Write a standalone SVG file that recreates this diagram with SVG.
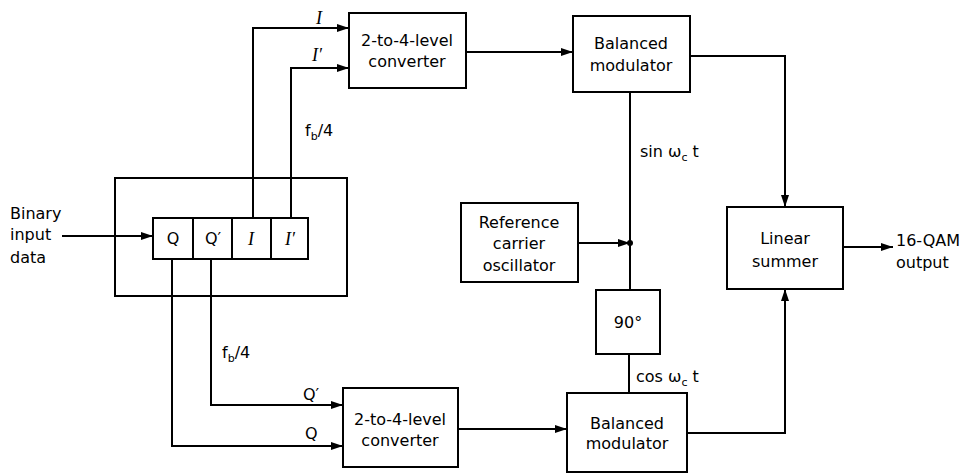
<svg xmlns="http://www.w3.org/2000/svg" width="978" height="475" viewBox="0 0 978 475">
<defs>
<marker id="arr" viewBox="0 0 12 8" refX="12" refY="4" markerWidth="12" markerHeight="8" markerUnits="userSpaceOnUse" orient="auto">
<path d="M0,0 L12,4 L0,8 Z" fill="#000"/>
</marker>
<style>
.box{fill:none;stroke:#000;stroke-width:2}
.ln{fill:none;stroke:#000;stroke-width:2}
.t{font-family:"DejaVu Sans",sans-serif;font-size:16px;fill:#000}
.c{text-anchor:middle}
.s{font-family:"Liberation Serif",serif;font-style:italic;font-size:18px;fill:#000}
</style>
</defs>
<rect width="978" height="475" fill="#fff"/>

<g id="connectors">
<path class="ln" d="M62,236 L153,236" marker-end="url(#arr)"/>
<path class="ln" d="M253,218 L253,28 L349,28" marker-end="url(#arr)"/>
<path class="ln" d="M291,218 L291,68 L349,68" marker-end="url(#arr)"/>
<path class="ln" d="M172,259 L172,446 L343,446" marker-end="url(#arr)"/>
<path class="ln" d="M211,259 L211,405 L343,405" marker-end="url(#arr)"/>
<path class="ln" d="M466,52 L573,52" marker-end="url(#arr)"/>
<path class="ln" d="M458,429 L567,429" marker-end="url(#arr)"/>
<path class="ln" d="M690,56 L785,56 L785,207" marker-end="url(#arr)"/>
<path class="ln" d="M687,433 L785,433 L785,289" marker-end="url(#arr)"/>
<path class="ln" d="M578,243 L630,243" marker-end="url(#arr)"/>
<path class="ln" d="M630,92 L630,290"/>
<path class="ln" d="M629,354 L629,393"/>
<path class="ln" d="M843,247 L893,247" marker-end="url(#arr)"/>
<circle cx="630" cy="243" r="3" fill="#000"/>
<text class="s" x="316" y="24">I</text>
<text class="s" x="312" y="61">I′</text>
<text class="t" x="305" y="136">f<tspan font-size="11" dy="4">b</tspan><tspan dy="-4">/4</tspan></text>
<text class="t" x="222" y="358">f<tspan font-size="11" dy="4">b</tspan><tspan dy="-4">/4</tspan></text>
<text class="t" x="303" y="400">Q′</text>
<text class="t" x="305" y="439">Q</text>
<text class="t" x="640" y="157">sin ω<tspan font-size="11" dy="4">c</tspan><tspan dy="-4"> t</tspan></text>
<text class="t" x="636" y="382">cos ω<tspan font-size="11" dy="4">c</tspan><tspan dy="-4"> t</tspan></text>
</g>

<g id="input-label">
<text class="t" x="10" y="219">Binary</text>
<text class="t" x="10" y="240">input</text>
<text class="t" x="10" y="263">data</text>
</g>

<g id="shift-register">
<rect class="box" x="115" y="178" width="232" height="118"/>
<rect class="box" x="153" y="218" width="155" height="41"/>
<line class="ln" x1="193" y1="218" x2="193" y2="259"/>
<line class="ln" x1="232" y1="218" x2="232" y2="259"/>
<line class="ln" x1="271" y1="218" x2="271" y2="259"/>
<text class="t c" x="173" y="244">Q</text>
<text class="t c" x="213" y="244">Q′</text>
<text class="s c" x="251" y="245">I</text>
<text class="s c" x="290" y="245">I′</text>
</g>

<g id="converter-top">
<rect class="box" x="349" y="13" width="117" height="75"/>
<text class="t c" x="407" y="46">2-to-4-level</text>
<text class="t c" x="407" y="67">converter</text>
</g>

<g id="modulator-top">
<rect class="box" x="573" y="16" width="117" height="76"/>
<text class="t c" x="631" y="49">Balanced</text>
<text class="t c" x="631" y="71">modulator</text>
</g>

<g id="oscillator">
<rect class="box" x="461" y="203" width="117" height="79"/>
<text class="t c" x="519" y="228">Reference</text>
<text class="t c" x="519" y="249">carrier</text>
<text class="t c" x="519" y="271">oscillator</text>
</g>

<g id="phase-shift">
<rect class="box" x="596" y="290" width="64" height="64"/>
<text class="t c" x="628" y="328">90°</text>
</g>

<g id="converter-bottom">
<rect class="box" x="343" y="388" width="115" height="79"/>
<text class="t c" x="400" y="425">2-to-4-level</text>
<text class="t c" x="400" y="446">converter</text>
</g>

<g id="modulator-bottom">
<rect class="box" x="567" y="393" width="120" height="79"/>
<text class="t c" x="627" y="429">Balanced</text>
<text class="t c" x="627" y="449">modulator</text>
</g>

<g id="summer">
<rect class="box" x="727" y="207" width="116" height="82"/>
<text class="t c" x="785" y="244">Linear</text>
<text class="t c" x="785" y="267">summer</text>
</g>

<g id="output-label">
<text class="t" x="896" y="246">16-QAM</text>
<text class="t" x="896" y="268">output</text>
</g>
</svg>
